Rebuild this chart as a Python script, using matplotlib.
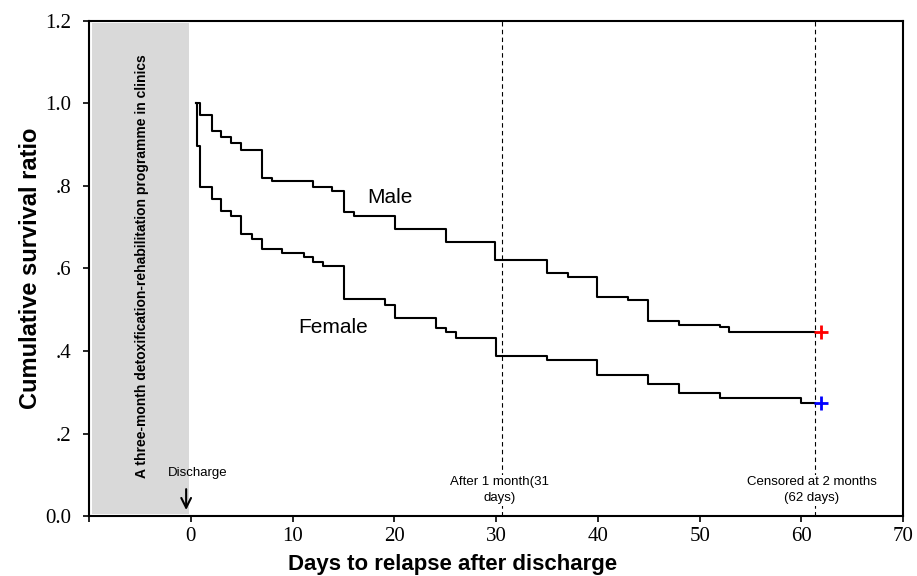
import matplotlib
matplotlib.use('Agg')
import matplotlib.pyplot as plt

# Kaplan-Meier steps (days, survival ratio)
male_days = [0.53, 0.92, 2.05, 3.02, 4.0, 4.97, 7.02, 8.0, 12.06, 13.9, 15.05, 16.05,
             20.08, 25.05, 29.9, 34.96, 37.08, 39.9, 43.0, 44.9, 47.95, 52.0, 52.9, 61.3]
male_surv = [1.0, 0.971, 0.934, 0.919, 0.903, 0.887, 0.819, 0.812, 0.797, 0.788, 0.737, 0.728,
             0.696, 0.663, 0.620, 0.589, 0.580, 0.530, 0.523, 0.472, 0.464, 0.458, 0.447, 0.447]

female_days = [0.53, 0.6, 0.95, 2.05, 3.02, 4.0, 4.97, 6.04, 7.02, 8.97, 11.08, 12.06, 13.03,
               15.05, 19.04, 20.08, 24.07, 25.05, 26.02, 30.0, 34.96, 39.9, 44.9, 47.95,
               52.0, 59.98, 61.3]
female_surv = [1.0, 0.897, 0.797, 0.768, 0.738, 0.728, 0.684, 0.672, 0.648, 0.638, 0.628, 0.616,
               0.606, 0.526, 0.512, 0.480, 0.456, 0.446, 0.432, 0.389, 0.378, 0.342, 0.321,
               0.297, 0.287, 0.273, 0.273]

censor_day = 61.9
male_censor = 0.447
female_censor = 0.273

marker_lines = [30.6, 61.3]
marker_texts = ['After 1 month(31\ndays)', 'Censored at 2 months\n(62 days)']

x_ticks = [-10, 0, 10, 20, 30, 40, 50, 60, 70]
x_labels = ['', '0', '10', '20', '30', '40', '50', '60', '70']
y_ticks = [0.0, 0.2, 0.4, 0.6, 0.8, 1.0, 1.2]
y_labels = ['0.0', '.2', '.4', '.6', '.8', '1.0', '1.2']

fig = plt.figure(figsize=(9.17, 5.76), dpi=100)
ax = fig.add_axes([0.097, 0.104, 0.888, 0.860])

# treatment period shading
ax.axvspan(-9.7, -0.2, ymin=0.004, ymax=0.996, color='#d9d9d9', lw=0)
ax.text(-4.8, 0.093, 'A three-month detoxification-rehabilitation programme in clinics',
        rotation=90, ha='center', va='bottom', fontsize=10, fontweight='bold',
        family='Liberation Sans')

for xv, txt in zip(marker_lines, marker_texts):
    ax.axvline(xv, color='black', ls=(0, (4, 3)), lw=0.8)
    ax.text(xv - 0.3, 0.063, txt, ha='center', va='center', fontsize=9.5,
            family='Liberation Sans', linespacing=1.45,
            bbox=dict(facecolor='white', edgecolor='none', pad=1))

ax.step(male_days, male_surv, where='post', color='black', lw=1.5)
ax.step(female_days, female_surv, where='post', color='black', lw=1.5)
ax.plot(censor_day, male_censor, '+', color='red', ms=10, mew=2)
ax.plot(censor_day, female_censor, '+', color='blue', ms=10, mew=2)

ax.text(19.6, 0.772, 'Male', ha='center', va='center', fontsize=15, family='Liberation Sans')
ax.text(14.0, 0.457, 'Female', ha='center', va='center', fontsize=15, family='Liberation Sans')

ax.text(0.66, 0.104, 'Discharge', ha='center', va='center', fontsize=9.5, family='Liberation Sans')
ax.annotate('', xy=(-0.45, 0.008), xytext=(-0.45, 0.072),
            arrowprops=dict(arrowstyle='->,head_length=0.7,head_width=0.35',
                            color='black', lw=1.5))

ax.set_xlim(-10, 70)
ax.set_ylim(0, 1.2)
ax.set_xticks(x_ticks)
ax.set_xticklabels(x_labels, family='Liberation Serif', fontsize=15)
ax.set_yticks(y_ticks)
ax.set_yticklabels(y_labels, family='Liberation Serif', fontsize=15)
ax.tick_params(direction='out', length=4, width=1.2)
ax.tick_params(axis='y', pad=9)
ax.tick_params(axis='x', pad=4)

for sp in ax.spines.values():
    sp.set_linewidth(1.5)

ax.set_xlabel('Days to relapse after discharge', fontsize=16, fontweight='bold',
              family='Liberation Sans', va='center')
ax.xaxis.set_label_coords(0.447, -0.097)
ax.set_ylabel('Cumulative survival ratio', fontsize=17, fontweight='bold',
              family='Liberation Sans', va='center')
ax.yaxis.set_label_coords(-0.072, 0.5)

fig.savefig('out.png', dpi=100)
